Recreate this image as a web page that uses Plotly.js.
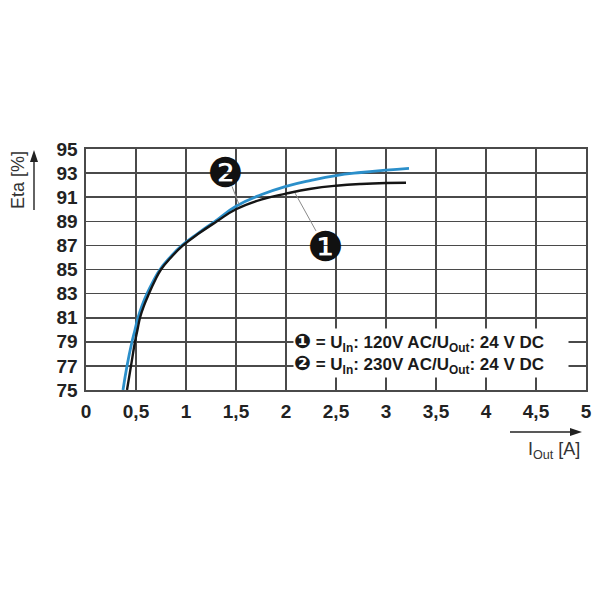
<!DOCTYPE html>
<html>
<head>
<meta charset="utf-8">
<script src="https://cdn.plot.ly/plotly-3.0.1.min.js"></script>
<style>html,body{margin:0;padding:0;background:#fff;}#chart{width:600px;height:600px;}</style>
</head>
<body>
<div id="chart"></div>
<script>
// Curve 1: U_In 120V AC (black)
const curve1X = [0.41, 0.45, 0.49, 0.515, 0.54, 0.58, 0.63, 0.685, 0.75, 0.85, 0.97, 1.13, 1.31, 1.5, 1.75, 2.0, 2.25, 2.5, 2.75, 3.0, 3.2];
const curve1Y = [75, 77, 79, 80, 81, 82, 83, 84, 85, 86, 87, 88, 89, 90.0, 90.8, 91.3, 91.7, 91.95, 92.1, 92.18, 92.2];
// Curve 2: U_In 230V AC (blue)
const curve2X = [0.37, 0.41, 0.46, 0.49, 0.52, 0.56, 0.61, 0.67, 0.74, 0.84, 0.96, 1.12, 1.29, 1.5, 1.75, 2.0, 2.25, 2.5, 2.75, 3.0, 3.23];
const curve2Y = [75, 77, 79, 80, 81, 82, 83, 84, 85, 86, 87, 88, 89, 90.25, 91.2, 91.9, 92.4, 92.8, 93.05, 93.25, 93.4];

const xTickVals = [0, 0.5, 1, 1.5, 2, 2.5, 3, 3.5, 4, 4.5, 5];
const xTickText = ["0", "0,5", "1", "1,5", "2", "2,5", "3", "3,5", "4", "4,5", "5"];
const yTickVals = [75, 77, 79, 81, 83, 85, 87, 89, 91, 93, 95];

const legendLines = [
  "<span style='font-family:DejaVu Sans;font-size:20px'>\u2776</span> = U<sub>In</sub>: 120V AC/U<sub>Out</sub>: 24 V DC",
  "<span style='font-family:DejaVu Sans;font-size:20px'>\u2777</span> = U<sub>In</sub>: 230V AC/U<sub>Out</sub>: 24 V DC"
];

const gridColor = "#4a4a4a";
const tickFont = {family: "Liberation Sans, Arial, sans-serif", size: 19, color: "#222", weight: "bold"};

const traces = [
  {x: curve2X, y: curve2Y, mode: "lines", line: {color: "#2b8fca", width: 2.8, shape: "spline", smoothing: 1.3}, hoverinfo: "skip"},
  {x: curve1X, y: curve1Y, mode: "lines", line: {color: "#151515", width: 2.4, shape: "spline", smoothing: 1.3}, hoverinfo: "skip"}
];

const layout = {
  width: 600, height: 600,
  margin: {l: 86, r: 14, t: 149, b: 210},
  paper_bgcolor: "#fff", plot_bgcolor: "#fff",
  showlegend: false,
  xaxis: {
    range: [0, 5], tickvals: xTickVals, ticktext: xTickText,
    showgrid: true, gridcolor: gridColor, gridwidth: 1.6,
    showline: true, linecolor: gridColor, linewidth: 1.6, mirror: true,
    zeroline: false, ticks: "", tickfont: tickFont, ticklabelstandoff: 4
  },
  yaxis: {
    range: [75, 95], tickvals: yTickVals,
    showgrid: true, gridcolor: gridColor, gridwidth: 1.6,
    showline: true, linecolor: gridColor, linewidth: 1.6, mirror: true,
    zeroline: false, ticks: "", tickfont: tickFont, ticklabelstandoff: 3
  },
  shapes: [
    // callout leader lines
    {type: "line", xref: "x", yref: "y", x0: 1.46, y0: 91.9, x1: 1.53, y1: 90.4, line: {color: "#8a8a8a", width: 1}},
    {type: "line", xref: "x", yref: "y", x0: 2.3, y0: 88.2, x1: 2.09, y1: 91.35, line: {color: "#8a8a8a", width: 1}},
    // y axis arrow
    {type: "line", xref: "paper", yref: "paper", x0: -0.104, y0: 0.747, x1: -0.104, y1: 0.96, line: {color: "#222", width: 1.4}},
    {type: "path", xref: "paper", yref: "paper", path: "M -0.104 0.996 L -0.112 0.946 L -0.096 0.946 Z", fillcolor: "#222", line: {width: 0}},
    // x axis arrow
    {type: "line", xref: "paper", yref: "paper", x0: 0.848, y0: -0.174, x1: 0.975, y1: -0.174, line: {color: "#222", width: 1.4}},
    {type: "path", xref: "paper", yref: "paper", path: "M 0.992 -0.174 L 0.968 -0.1574 L 0.968 -0.1906 Z", fillcolor: "#222", line: {width: 0}}
  ],
  annotations: [
    // legend box
    {xref: "x", yref: "y", x: 2.07, y: 78.1, xanchor: "left", yanchor: "middle",
     text: legendLines.join("<br>"), showarrow: false, align: "left",
     bgcolor: "#fff", borderpad: 0, width: 274, height: 48,
     font: {family: "Liberation Sans, Arial, sans-serif", size: 17, color: "#1a1a1a", weight: "bold"}},
    // callout circles
    {xref: "x", yref: "y", x: 1.39, y: 93.0, xanchor: "center", yanchor: "middle", text: "\u2777", showarrow: false,
     font: {family: "DejaVu Sans", size: 41, color: "#111"}},
    {xref: "x", yref: "y", x: 2.39, y: 86.9, xanchor: "center", yanchor: "middle", text: "\u2776", showarrow: false,
     font: {family: "DejaVu Sans", size: 41, color: "#111"}},
    // y axis title
    {xref: "paper", yref: "paper", x: -0.136, y: 0.871, xanchor: "center", yanchor: "middle",
     text: "Eta [%]", textangle: -90,
     showarrow: false, font: {family: "Liberation Sans, Arial, sans-serif", size: 18, color: "#333"}},
    // x axis title
    {xref: "paper", yref: "paper", x: 0.936, y: -0.249, xanchor: "center", yanchor: "middle",
     text: "I<sub>Out</sub> [A]",
     showarrow: false, font: {family: "Liberation Sans, Arial, sans-serif", size: 18, color: "#333"}}
  ]
};

Plotly.newPlot("chart", traces, layout, {staticPlot: true, displayModeBar: false});
</script>
</body>
</html>
